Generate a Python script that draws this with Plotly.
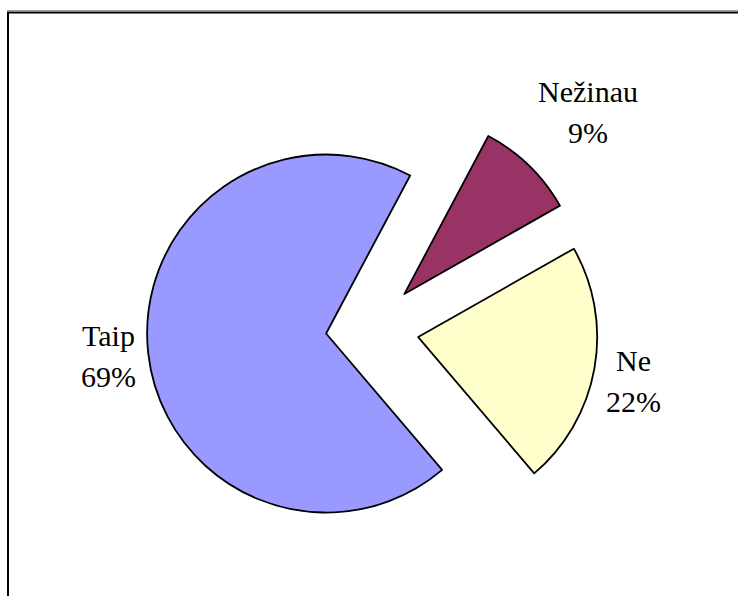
import plotly.graph_objects as go

# ---- data ----
labels = ["Nežinau", "Ne", "Taip"]
values = [9, 22, 69]
pct_labels = ["9%", "22%", "69%"]

# ---- styling / layout ----
colors = ["#993366", "#FFFFCC", "#9999FF"]
pulls = [0.27, 0.27, 0.25]
W, H = 738, 596
R = 179                 # pie radius in px
CX, CY = 370.6, 328.7   # pie centre in px (from top-left)
START_DEG = 28
label_centers = [(588, 112), (633, 381), (108, 356)]  # text block centres, px
LINE_GAP = 41
FONT = "Liberation Serif"
FS = 30

maxpull = max(pulls)
box = 2 * R * (1 + maxpull)
dom_x = [(CX - box / 2) / W, (CX + box / 2) / W]
dom_y = [1 - (CY + box / 2) / H, 1 - (CY - box / 2) / H]

fig = go.Figure(go.Pie(
    labels=labels,
    values=values,
    sort=False,
    direction="clockwise",
    rotation=START_DEG,
    pull=pulls,
    marker=dict(colors=colors, line=dict(color="black", width=1.8)),
    textinfo="none",
    hoverinfo="label+percent",
    showlegend=False,
    domain=dict(x=dom_x, y=dom_y),
))

annotations = []
for name, pct, (px, py) in zip(labels, pct_labels, label_centers):
    for txt, dy in ((name, -LINE_GAP / 2), (pct, LINE_GAP / 2)):
        annotations.append(dict(
            x=px / W, y=1 - (py + dy) / H, xref="paper", yref="paper",
            text=txt, showarrow=False, xanchor="center", yanchor="middle",
            font=dict(family=FONT, size=FS, color="black"),
        ))

shapes = [
    dict(type="line", xref="paper", yref="paper",
         x0=7 / W, x1=1.0, y0=1 - 10.5 / H, y1=1 - 10.5 / H,
         line=dict(color="#a0a0a0", width=1)),
    dict(type="rect", xref="paper", yref="paper",
         x0=8 / W, x1=1.02, y0=-0.02, y1=1 - 12.5 / H,
         line=dict(color="black", width=2)),
]

fig.update_layout(
    width=W, height=H,
    margin=dict(l=0, r=0, t=0, b=0),
    paper_bgcolor="white", plot_bgcolor="white",
    font=dict(family=FONT),
    annotations=annotations, shapes=shapes,
)

fig.write_html(
    "out.html",
    config={"displayModeBar": False},
    post_script="document.body.style.margin='0';document.body.style.overflow='hidden';",
)
